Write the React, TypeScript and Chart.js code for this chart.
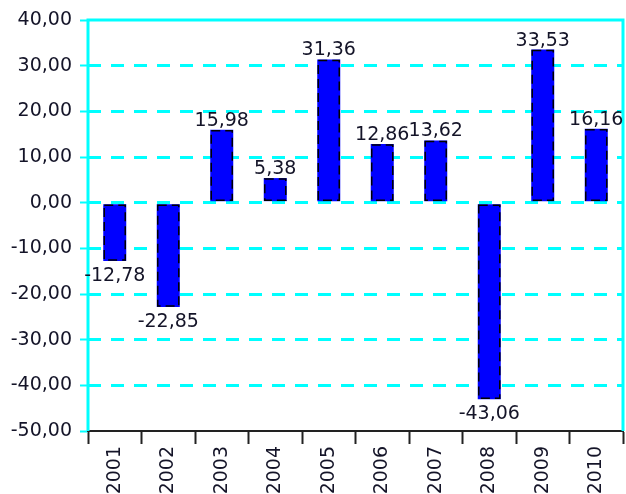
import React, { useEffect, useRef } from "react";
import { Chart, registerables } from "chart.js";

Chart.register(...registerables);

const categories = ["2001", "2002", "2003", "2004", "2005", "2006", "2007", "2008", "2009", "2010"];
const values = [-12.78, -22.85, 15.98, 5.38, 31.36, 12.86, 13.62, -43.06, 33.53, 16.16];
const yMin = -50;
const yMax = 40;
const yStep = 10;

const CYAN = "#00FFFF";
const TEXT = "#141428";
const FONT_FAMILY = '"DejaVu Sans", Verdana, sans-serif';
const FONT_SIZE = 19;

const fmt = (v: number) => v.toFixed(2).replace(".", ",");

const framePlugin = {
  id: "frame",
  beforeDatasetsDraw(chart: any) {
    const { ctx, chartArea } = chart;
    const { left, top, right, bottom } = chartArea;
    ctx.save();
    ctx.strokeStyle = CYAN;
    ctx.lineWidth = 3;
    ctx.setLineDash([]);
    ctx.beginPath();
    ctx.moveTo(left, bottom);
    ctx.lineTo(left, top);
    ctx.lineTo(right, top);
    ctx.lineTo(right, bottom);
    ctx.stroke();
    ctx.restore();
  },
};

const barDecorPlugin = {
  id: "barDecor",
  afterDatasetsDraw(chart: any) {
    const ctx = chart.ctx;
    const meta = chart.getDatasetMeta(0);
    meta.data.forEach((bar: any, i: number) => {
      const { x, y, base, width } = bar.getProps(["x", "y", "base", "width"], true);
      const top = Math.min(y, base);
      const bottom = Math.max(y, base);
      ctx.save();
      ctx.strokeStyle = "#000";
      ctx.lineWidth = 1.5;
      ctx.setLineDash([9, 5]);
      ctx.strokeRect(x - width / 2 + 1, top + 1, width - 2, bottom - top - 2);
      ctx.restore();

      const v = values[i];
      ctx.save();
      ctx.fillStyle = TEXT;
      ctx.font = `${FONT_SIZE}px ${FONT_FAMILY}`;
      ctx.textAlign = "center";
      ctx.textBaseline = "alphabetic";
      if (v >= 0) {
        ctx.fillText(fmt(v), x, y - 4);
      } else {
        ctx.fillText(fmt(v), x, y + 20);
      }
      ctx.restore();
    });
  },
};

export default function App() {
  const canvasRef = useRef<HTMLCanvasElement>(null);

  useEffect(() => {
    if (!canvasRef.current) return;
    const chart = new Chart(canvasRef.current, {
      type: "bar",
      data: {
        labels: categories,
        datasets: [
          {
            data: values,
            backgroundColor: "#0000FF",
            borderWidth: 0,
            inflateAmount: 0,
            barPercentage: 0.43,
            categoryPercentage: 1,
          },
        ],
      },
      options: {
        responsive: false,
        animation: false,
        layout: { padding: { top: 20, right: 3, left: 0, bottom: 0 } },
        plugins: {
          legend: { display: false },
          tooltip: { enabled: false },
        },
        scales: {
          x: {
            offset: true,
            grid: {
              display: true,
              offset: true,
              drawOnChartArea: false,
              drawTicks: true,
              tickLength: 13,
              tickColor: "#222",
              tickWidth: 2,
            },
            border: { display: true, color: "#222", width: 2 },
            ticks: {
              minRotation: 90,
              maxRotation: 90,
              padding: 2,
              color: TEXT,
              font: { family: FONT_FAMILY, size: FONT_SIZE },
            },
            afterFit: (scale: any) => {
              scale.height = 63;
            },
          },
          y: {
            min: yMin,
            max: yMax,
            grid: {
              color: (c: any) =>
                c.tick && (c.tick.value === yMin || c.tick.value === yMax) ? "rgba(0,0,0,0)" : CYAN,
              lineWidth: 3,
              tickLength: 8,
              tickColor: CYAN,
              tickWidth: 2,
              tickBorderDash: [],
            },
            border: { display: false, dash: [13, 10] },
            ticks: {
              stepSize: yStep,
              padding: 8,
              color: TEXT,
              font: { family: FONT_FAMILY, size: FONT_SIZE },
              callback: (v: any) => fmt(Number(v)),
            },
            afterFit: (scale: any) => {
              scale.width = 88;
            },
          },
        },
      },
      plugins: [framePlugin, barDecorPlugin],
    });
    return () => chart.destroy();
  }, []);

  return (
    <canvas
      ref={canvasRef}
      width={626}
      height={494}
      style={{ position: "absolute", left: 0, top: 0, display: "block" }}
    />
  );
}
